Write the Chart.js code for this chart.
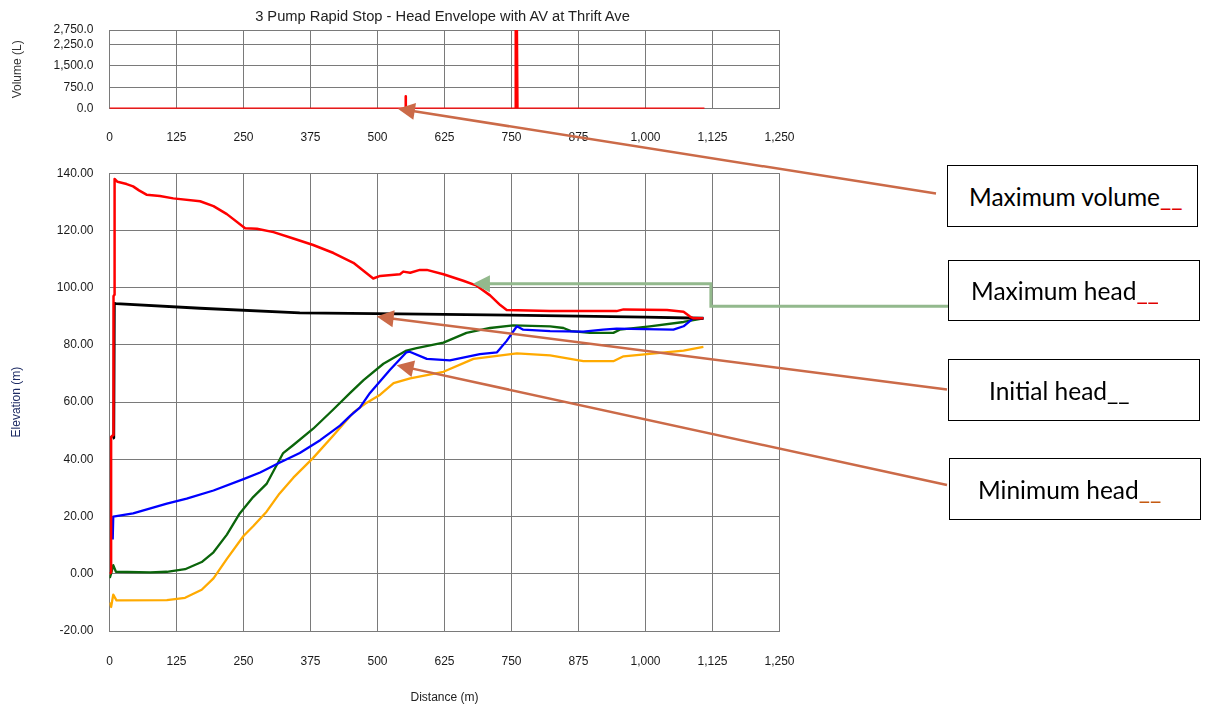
<!DOCTYPE html>
<html>
<head>
<meta charset="utf-8">
<script src="https://cdn.jsdelivr.net/npm/chart.js@4.4.1/dist/chart.umd.min.js"></script>
<style>
html,body{margin:0;padding:0;background:#fff;}
#wrap{position:relative;width:1207px;height:706px;overflow:hidden;background:#fff;}
#c1{position:absolute;left:0;top:0;}
#c2{position:absolute;left:0;top:150px;}
#title{position:absolute;left:0;top:8px;width:885px;text-align:center;font-family:'Liberation Sans',Arial,sans-serif;font-size:14.7px;color:#222;white-space:nowrap;}
.box{position:absolute;border:1.6px solid #000;box-sizing:border-box;font-family:Lato,'Noto Sans',sans-serif;font-size:24.5px;color:#000;display:flex;align-items:center;white-space:nowrap;background:#fff;}
#ov{position:absolute;left:0;top:0;pointer-events:none;}
</style>
</head>
<body>
<div id="wrap">
  <canvas id="c1" width="1207" height="150" style="width:1207px;height:150px"></canvas>
  <canvas id="c2" width="1207" height="556" style="width:1207px;height:556px"></canvas>
  <div id="title">3 Pump Rapid Stop - Head Envelope with AV at Thrift Ave</div>
  <svg id="ov" width="1207" height="706"></svg>
</div>
<script>
// ---------- Data ----------
const chartTitle = '3 Pump Rapid Stop - Head Envelope with AV at Thrift Ave';
const distanceTicks = [0,125,250,375,500,625,750,875,1000,1125,1250];
const volumeTicks = [0,750,1500,2250,2750];
const elevationTicks = [-20,0,20,40,60,80,100,120,140];

const volumeX = [0,552,552.5,553,757,758,760,761,1110];
const volumeY = [0,0,430,0,0,2720,2720,0,0];

const maxHeadX = [0,3,3,7,7.5,9,9.5,15,32,44,55,69,94,119,169,194,219,253,275,306,343,380,418,455,492,505,542,548,561,579,592,623,660,685,710,729,741,822,946,959,1040,1071,1083,1089,1108];
const maxHeadY = [0,0.5,47.8,48.5,97,97.5,138,137,136.2,135.4,134,132.5,132,131.2,130.2,128.5,125.7,120.8,120.6,119.4,117.2,114.9,112.1,108.7,103.2,104.1,104.7,105.6,105.2,106.2,106.2,104.7,102.4,100.7,97.3,93.9,92.2,91.8,91.8,92.4,92.2,91.6,89.9,89.3,89.3];

const initialHeadX = [6,8,9,12,169,355,449,542,747,1000,1108];
const initialHeadY = [47.3,47.5,94.5,94.4,92.8,91.2,91.0,90.8,90.4,89.7,89.3];

const blueHeadX = [6,6,7,44,107,144,194,250,281,317,355,393,430,449,467,486,523,554,560,592,635,691,723,741,760,772,822,884,921,946,1052,1071,1089,1108];
const blueHeadY = [12,12,20,21.1,24.5,26.3,29.1,33.1,35.4,38.8,42.2,46.7,51.8,55.2,58.1,63.2,71.2,77.4,77.6,75.1,74.6,76.8,77.4,81.4,86.5,85.3,84.8,84.6,85.3,85.7,85.3,86.5,89.3,89.3];

const greenHeadX = [0,1,3,7,12,76,107,141,172,194,219,243,268,293,324,343,380,418,449,474,511,554,573,623,666,710,753,822,847,861,896,940,952,1008,1071,1108];
const greenHeadY = [-0.5,-1.2,0,3,0.7,0.5,0.7,1.6,4.1,7.5,13.7,21.1,26.8,31.4,42.2,45,50.7,57.5,63.2,67.7,73.4,78,78.9,80.8,84.2,85.9,86.8,86.5,85.9,84.8,84.2,84.2,85.3,86.5,88,89.3];

const orangeHeadX = [0,3,7,13,107,141,172,194,219,250,268,293,317,343,380,418,455,480,505,530,561,623,679,760,822,884,940,959,1071,1108];
const orangeHeadY = [-10.1,-11.6,-7.3,-9.3,-9.2,-8.4,-5.6,-1.6,5.2,13.2,16.6,21.7,28,33.6,40.5,48.4,56.4,59.8,62.6,66.6,68.3,70.6,75.1,77,76.3,74.3,74.3,76,78,79.3];

// annotation targets (data coordinates)
const annMaxVolumeTip = [538, 0];
const annMaxHeadTip = [678, 101.4];
const annMaxHeadElbow = [1122, 93.5];
const annInitialTip = [498.5, 89.9];
const annMinTip = [535.8, 72.9];

// ---------- Helpers ----------
const pts = (xs, ys) => xs.map((x,i)=>({x, y: ys[i]}));
const fmtInt = v => Number(v).toLocaleString('en-US');
const tickFont = {family:"'Liberation Sans', Arial, sans-serif", size:12};
const gridColor = '#7a7a7a';
const tickColor = '#1a1a1a';

function lineDs(xs, ys, color, w){
  return {data: pts(xs, ys), borderColor: color, borderWidth: w||2.2, pointRadius:0, tension:0, fill:false, borderJoinStyle:'round'};
}

// ---------- Top chart: volume ----------
const chart1 = new Chart(document.getElementById('c1'), {
  type:'line',
  data:{datasets:[lineDs(volumeX, volumeY, '#ff0000', 2.6)]},
  options:{
    animation:false, responsive:false, events:[],
    layout:{padding:{top:30, right:427.5, left:0, bottom:0}},
    plugins:{legend:{display:false}, tooltip:{enabled:false}, title:{display:false}},
    scales:{
      x:{type:'linear', min:0, max:1250,
        afterBuildTicks: s => { s.ticks = distanceTicks.map(v=>({value:v})); },
        afterFit: s => { s.height = 41.3; },
        grid:{color:gridColor, drawTicks:false}, border:{color:gridColor},
        ticks:{padding:22, color:tickColor, font:tickFont, maxRotation:0, autoSkip:false, callback: v => fmtInt(v)}
      },
      y:{type:'linear', min:0, max:2750,
        afterBuildTicks: s => { s.ticks = volumeTicks.map(v=>({value:v})); },
        afterFit: s => { s.width = 109.5; },
        grid:{color:gridColor, drawTicks:false}, border:{color:gridColor},
        ticks:{padding:16, color:tickColor, font:tickFont, autoSkip:false,
          callback: v => Number(v).toLocaleString('en-US',{minimumFractionDigits:1, maximumFractionDigits:1})},
        title:{display:true, text:'Volume (L)', color:'#333', font:{family:"'Liberation Sans', Arial, sans-serif", size:12}, padding:{top:10,bottom:0}}
      }
    }
  }
});

// ---------- Bottom chart: elevation ----------
const chart2 = new Chart(document.getElementById('c2'), {
  type:'line',
  data:{datasets:[
    lineDs(maxHeadX, maxHeadY, '#ff0000', 2.5),
    lineDs(initialHeadX, initialHeadY, '#000000', 2.8),
    lineDs(blueHeadX, blueHeadY, '#0000ff', 2.3),
    lineDs(greenHeadX, greenHeadY, '#0b650b', 2.3),
    lineDs(orangeHeadX, orangeHeadY, '#ffaa00', 2.3)
  ]},
  options:{
    animation:false, responsive:false, events:[],
    layout:{padding:{top:11, right:427.5, left:0, bottom:0}},
    plugins:{legend:{display:false}, tooltip:{enabled:false}, title:{display:false}},
    scales:{
      x:{type:'linear', min:0, max:1250,
        afterBuildTicks: s => { s.ticks = distanceTicks.map(v=>({value:v})); },
        afterFit: s => { s.height = 75; },
        grid:{color:gridColor, drawTicks:false}, border:{color:gridColor},
        ticks:{padding:23.5, color:tickColor, font:tickFont, maxRotation:0, autoSkip:false, callback: v => fmtInt(v)},
        title:{display:true, text:'Distance (m)', color:'#222', font:{family:"'Liberation Sans', Arial, sans-serif", size:12}, padding:{top:0,bottom:1}}
      },
      y:{type:'linear', min:-20, max:140,
        afterBuildTicks: s => { s.ticks = elevationTicks.map(v=>({value:v})); },
        afterFit: s => { s.width = 109.5; },
        grid:{color:gridColor, drawTicks:false}, border:{color:gridColor},
        ticks:{padding:16, color:tickColor, font:tickFont, autoSkip:false, callback: v => Number(v).toFixed(2)},
        title:{display:true, text:'Elevation (m)', color:'#1c2a63', font:{family:"'Liberation Sans', Arial, sans-serif", size:12}, padding:{top:9.5,bottom:0}}
      }
    }
  }
});

// ---------- Annotation boxes ----------
const boxes = [
  {text:'Maximum volume', us:'#e00000', left:947, top:165, w:251, h:62, pad:21},
  {text:'Maximum head',   us:'#e00000', left:948, top:260, w:252, h:61, pad:22},
  {text:'Initial head',   us:'#000000', left:948, top:359, w:252, h:62, pad:40},
  {text:'Minimum head',   us:'#c55a11', left:949, top:458, w:252, h:62, pad:28}
];
const wrap = document.getElementById('wrap');
boxes.forEach(b=>{
  const d = document.createElement('div');
  d.className='box';
  d.style.left=b.left+'px'; d.style.top=b.top+'px'; d.style.width=b.w+'px'; d.style.height=b.h+'px';
  d.style.paddingLeft=b.pad+'px';
  const t = document.createElement('span'); t.textContent=b.text;
  const u = document.createElement('span'); u.textContent='__'; u.style.color=b.us;
  d.appendChild(t); d.appendChild(u);
  wrap.insertBefore(d, document.getElementById('ov'));
});

// ---------- Arrows ----------
const svg = document.getElementById('ov');
const NS='http://www.w3.org/2000/svg';
function px1(p){ return [chart1.scales.x.getPixelForValue(p[0]), chart1.scales.y.getPixelForValue(p[1])]; }
function px2(p){ return [chart2.scales.x.getPixelForValue(p[0]), chart2.scales.y.getPixelForValue(p[1]) + 150]; }
function arrow(points, color, width){
  const n = points.length;
  const tip = points[n-1], prev = points[n-2];
  const dx = tip[0]-prev[0], dy = tip[1]-prev[1];
  const L = Math.hypot(dx,dy), ux = dx/L, uy = dy/L;
  const hl = 17, hw = 8.5;
  const bx = tip[0]-ux*hl, by = tip[1]-uy*hl;
  const pl = document.createElementNS(NS,'polyline');
  const linePts = points.slice(0,n-1).concat([[bx+ux*2, by+uy*2]]);
  pl.setAttribute('points', linePts.map(p=>p.join(',')).join(' '));
  pl.setAttribute('fill','none'); pl.setAttribute('stroke',color); pl.setAttribute('stroke-width',width);
  svg.appendChild(pl);
  const head = document.createElementNS(NS,'polygon');
  head.setAttribute('points', [tip, [bx - uy*hw, by + ux*hw], [bx + uy*hw, by - ux*hw]].map(p=>p.join(',')).join(' '));
  head.setAttribute('fill', color);
  svg.appendChild(head);
}
const arrowColor = '#cb6a48';
const t1 = px1(annMaxVolumeTip);
arrow([[936,193.5], t1], arrowColor, 2.5);
const e2 = px2(annMaxHeadElbow), t2 = px2(annMaxHeadTip);
arrow([[948,e2[1]], [e2[0],e2[1]], [e2[0],t2[1]], t2], '#93b98d', 3);
arrow([[947,389.5], px2(annInitialTip)], arrowColor, 2.5);
arrow([[947,485], px2(annMinTip)], arrowColor, 2.5);
</script>
</body>
</html>
